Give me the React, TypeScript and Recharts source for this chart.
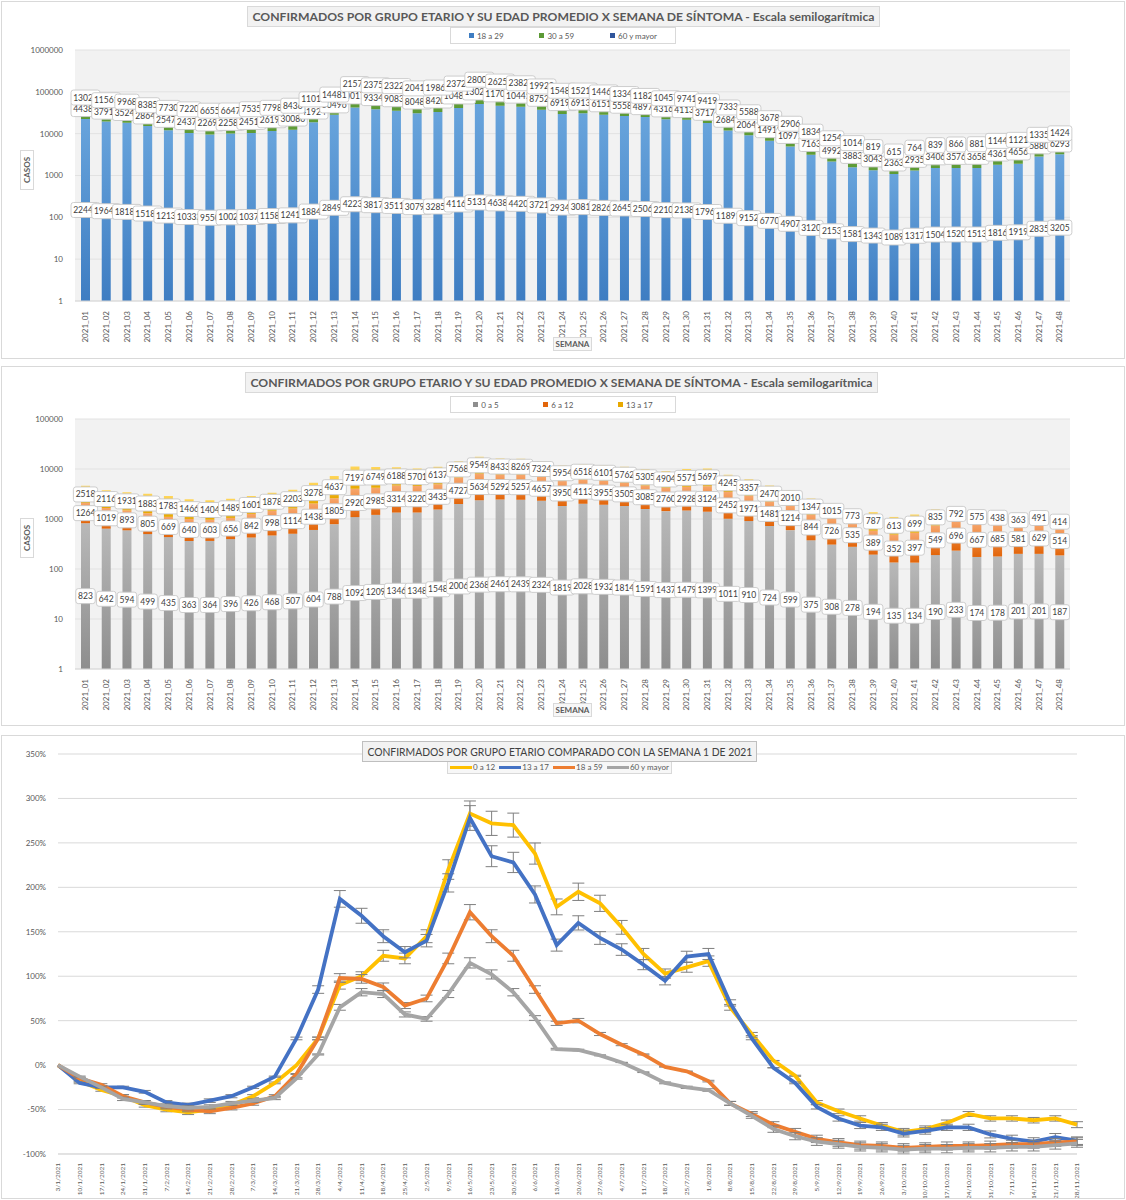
import React from "react";
import {
  BarChart,
  Bar,
  XAxis,
  YAxis,
  CartesianGrid,
  LabelList,
  Legend,
  LineChart,
  Line,
  ErrorBar,
} from "recharts";

const semanas = [
  "2021_01", "2021_02", "2021_03", "2021_04", "2021_05", "2021_06", "2021_07", "2021_08",
  "2021_09", "2021_10", "2021_11", "2021_12", "2021_13", "2021_14", "2021_15", "2021_16",
  "2021_17", "2021_18", "2021_19", "2021_20", "2021_21", "2021_22", "2021_23", "2021_24",
  "2021_25", "2021_26", "2021_27", "2021_28", "2021_29", "2021_30", "2021_31", "2021_32",
  "2021_33", "2021_34", "2021_35", "2021_36", "2021_37", "2021_38", "2021_39", "2021_40",
  "2021_41", "2021_42", "2021_43", "2021_44", "2021_45", "2021_46", "2021_47", "2021_48",
];

// grafico 1 (adultos)
const grupo18a29 = [
  22442, 19644, 18185, 15183, 12137, 10332, 9550, 10023, 10377, 11586, 12416, 18848,
  28493, 42233, 38176, 35117, 30792, 32851, 41166, 51318, 46387, 44206, 37215, 29348,
  30819, 28263, 26454, 25068, 22108, 21385, 17966, 11891, 9152, 6770, 4907, 3120,
  2153, 1581, 1343, 1089, 1317, 1504, 1520, 1513, 1816, 1919, 2835, 3205,
];
const grupo30a59 = [
  44386, 37916, 35242, 28644, 25478, 24372, 22696, 22585, 24513, 26195, 30086, 41924,
  50496, 100178, 93348, 90838, 80485, 84207, 104881, 130206, 117066, 104459, 87526, 69196,
  69133, 61516, 55585, 48972, 43162, 41133, 37174, 26845, 20641, 14910, 10971, 7163,
  4992, 3883, 3043, 2363, 2935, 3406, 3576, 3658, 4361, 4656, 5880, 6293,
];
const grupo60ymas = [
  13020, 11561, 9968, 8385, 7730, 7220, 6655, 6647, 7535, 7798, 8436, 11012,
  14481, 21574, 23756, 23229, 20410, 19868, 23722, 28006, 26259, 23826, 19920, 15488,
  15214, 14462, 13342, 11825, 10457, 9741, 9419, 7333, 5588, 3678, 2906, 1834,
  1254, 1014, 819, 615, 764, 839, 866, 881, 1144, 1121, 1335, 1424,
];

// grafico 2 (menores)
const grupo0a5 = [
  823, 642, 594, 499, 435, 363, 364, 396, 426, 468, 507, 604,
  788, 1092, 1209, 1346, 1348, 1548, 2006, 2368, 2461, 2439, 2324, 1819,
  2028, 1932, 1814, 1591, 1437, 1479, 1399, 1011, 910, 724, 599, 375,
  308, 278, 194, 135, 134, 190, 233, 174, 178, 201, 201, 187,
];
const grupo6a12 = [
  1264, 1019, 893, 805, 669, 640, 603, 656, 842, 998, 1114, 1438,
  1805, 2920, 2985, 3314, 3220, 3435, 4727, 5634, 5292, 5257, 4657, 3950,
  4113, 3955, 3505, 3085, 2760, 2928, 3124, 2452, 1971, 1481, 1214, 844,
  726, 535, 389, 352, 397, 549, 696, 667, 685, 581, 629, 514,
];
const grupo13a17 = [
  2518, 2116, 1931, 1883, 1783, 1466, 1404, 1489, 1601, 1878, 2203, 3278,
  4637, 7197, 6749, 6188, 5701, 6137, 7568, 9549, 8433, 8269, 7324, 5954,
  6518, 6101, 5762, 5305, 4904, 5571, 5697, 4245, 3357, 2470, 2010, 1347,
  1015, 773, 787, 613, 699, 835, 792, 575, 438, 363, 491, 414,
];

// grafico 3 (variacion vs semana 1)
const fechas = [
  "3/1/2021", "10/1/2021", "17/1/2021", "24/1/2021", "31/1/2021", "7/2/2021", "14/2/2021", "21/2/2021",
  "28/2/2021", "7/3/2021", "14/3/2021", "21/3/2021", "28/3/2021", "4/4/2021", "11/4/2021", "18/4/2021",
  "25/4/2021", "2/5/2021", "9/5/2021", "16/5/2021", "23/5/2021", "30/5/2021", "6/6/2021", "13/6/2021",
  "20/6/2021", "27/6/2021", "4/7/2021", "11/7/2021", "18/7/2021", "25/7/2021", "1/8/2021", "8/8/2021",
  "15/8/2021", "22/8/2021", "29/8/2021", "5/9/2021", "12/9/2021", "19/9/2021", "26/9/2021", "3/10/2021",
  "10/10/2021", "17/10/2021", "24/10/2021", "31/10/2021", "7/11/2021", "14/11/2021", "21/11/2021", "28/11/2021",
];
const var0a12 = [
  0, -18, -28, -35, -45, -50, -53, -50, -45, -35, -20, 0,
  30, 90, 100, 123, 120, 145, 220, 283, 272, 270, 238, 178,
  195, 182, 155, 125, 103, 110, 117, 65, 35, 5, -12, -42,
  -52, -60, -68, -75, -72, -65, -55, -60, -60, -62, -60, -67,
];
const var13a17 = [
  0, -20, -25, -25, -30, -42, -45, -40, -35, -25, -13, 30,
  85, 187, 168, 145, 127, 140, 205, 278, 235, 228, 192, 135,
  160, 143, 130, 113, 95, 122, 125, 70, 30, -3, -20, -47,
  -60, -68, -70, -77, -74, -70, -70, -78, -83, -86, -81, -85,
];
const var18a59 = [
  0, -15, -22, -35, -42, -47, -50, -52, -48, -43, -35, -10,
  30, 98, 97, 88, 67, 75, 120, 172, 145, 123, 85, 47,
  50, 35, 23, 12, -2, -7, -18, -43, -55, -67, -75, -83,
  -87, -90, -91, -93, -92, -91, -91, -90, -89, -89, -87, -86,
];
const var60ymas = [
  0, -13, -25, -38, -42, -46, -48, -47, -43, -40, -37, -15,
  12, 65, 82, 80, 57, 52, 80, 115, 102, 82, 53, 18,
  17, 11, 3, -8, -20, -25, -28, -43, -57, -72, -80, -86,
  -89, -92, -93, -95, -94, -94, -93, -93, -92, -92, -90, -88,
];

const logTicks1 = [1, 10, 100, 1000, 10000, 100000, 1000000];
const logTicks2 = [1, 10, 100, 1000, 10000, 100000];
const pctTicks = [-100, -50, 0, 50, 100, 150, 200, 250, 300, 350];

const TITULO_LOG =
  "CONFIRMADOS POR GRUPO ETARIO Y SU EDAD PROMEDIO X SEMANA DE SÍNTOMA - Escala semilogarítmica";

// tramos apilados [desde, hasta] para poder usar eje log
function apilar(a: number[], b: number[], c: number[]) {
  return semanas.map((semana, i) => ({
    semana,
    t1: [1, a[i]],
    t2: [a[i], a[i] + b[i]],
    t3: [a[i] + b[i], a[i] + b[i] + c[i]],
    v1: a[i],
    v2: b[i],
    v3: c[i],
  }));
}

const filasAdultos = apilar(grupo18a29, grupo30a59, grupo60ymas);
const filasMenores = apilar(grupo0a5, grupo6a12, grupo13a17);

// barras de error en porcentaje (5%)
const filasVariacion = fechas.map((fecha, i) => ({
  fecha,
  a: var0a12[i],
  b: var13a17[i],
  c: var18a59[i],
  d: var60ymas[i],
  ea: Math.abs(var0a12[i]) * 0.05,
  eb: Math.abs(var13a17[i]) * 0.05,
  ec: Math.abs(var18a59[i]) * 0.05,
  ed: Math.abs(var60ymas[i]) * 0.05,
}));

const FONT = "Lato, 'Open Sans', sans-serif";

function BoxLabel(p: any) {
  const vb = p.viewBox && p.viewBox.width !== undefined ? p.viewBox : p;
  const cx = vb.x + vb.width / 2;
  const cy = vb.y + vb.height / 2;
  const txt = String(p.value);
  const w = txt.length * 4.8 + 5;
  return (
    <g>
      <rect
        x={cx - w / 2}
        y={cy - 7.5}
        width={w}
        height={15}
        rx={2.5}
        fill="#ffffff"
        stroke="#C8C8C8"
        strokeWidth={0.9}
      />
      <text
        x={cx}
        y={cy}
        dy={3}
        textAnchor="middle"
        fontSize={8.5}
        fill="#404040"
        fontFamily={FONT}
      >
        {txt}
      </text>
    </g>
  );
}

function VertTick(p: any) {
  const { x, y, payload, size } = p;
  const fs = size || 8;
  return (
    <text
      x={x}
      y={y}
      transform={`rotate(-90, ${x}, ${y})`}
      textAnchor="end"
      dy={fs * 0.35}
      fontSize={fs}
      fill="#595959"
      fontFamily={FONT}
    >
      {payload.value}
    </text>
  );
}

function SquareLegend({ items }: { items: { name: string; color: string }[] }) {
  return (
    <div
      style={{
        display: "flex",
        justifyContent: "space-around",
        alignItems: "center",
        width: "100%",
        height: "100%",
        boxSizing: "border-box",
        border: "1px solid #D9D9D9",
        background: "#ffffff",
        fontFamily: FONT,
        fontSize: 8,
        color: "#595959",
      }}
    >
      {items.map((it) => (
        <span key={it.name} style={{ display: "flex", alignItems: "center" }}>
          <span
            style={{ display: "inline-block", width: 5, height: 5, background: it.color, marginRight: 3 }}
          />
          {it.name}
        </span>
      ))}
    </div>
  );
}

function LineLegend({ items }: { items: { name: string; color: string }[] }) {
  return (
    <div
      style={{
        display: "flex",
        justifyContent: "space-around",
        alignItems: "center",
        width: "100%",
        height: "100%",
        boxSizing: "border-box",
        border: "1px solid #D9D9D9",
        background: "#F7F7F7",
        fontFamily: FONT,
        fontSize: 8,
        color: "#595959",
      }}
    >
      {items.map((it) => (
        <span key={it.name} style={{ display: "flex", alignItems: "center" }}>
          <span
            style={{ display: "inline-block", width: 22, height: 3, background: it.color, marginRight: 1 }}
          />
          {it.name}
        </span>
      ))}
    </div>
  );
}

const tituloCaja: React.CSSProperties = {
  position: "absolute",
  boxSizing: "border-box",
  background: "#F2F2F2",
  border: "1px solid #D9D9D9",
  fontFamily: FONT,
  color: "#595959",
  textAlign: "center",
  whiteSpace: "nowrap",
};

const panel: React.CSSProperties = {
  position: "absolute",
  left: 1,
  width: 1124,
  boxSizing: "border-box",
  border: "1px solid #D9D9D9",
  background: "#ffffff",
};

function CasosLabel({ top }: { top: number }) {
  return (
    <div
      style={{
        position: "absolute",
        left: 25 - 20,
        top: top - 7,
        width: 40,
        height: 14,
        transform: "rotate(-90deg)",
        boxSizing: "border-box",
        border: "1px solid #D9D9D9",
        fontFamily: FONT,
        fontSize: 8,
        fontWeight: 700,
        color: "#595959",
        textAlign: "center",
        lineHeight: "12px",
      }}
    >
      CASOS
    </div>
  );
}

function SemanaLabel({ top }: { top: number }) {
  return (
    <div
      style={{
        position: "absolute",
        left: 551,
        top,
        width: 39,
        height: 14,
        boxSizing: "border-box",
        border: "1px solid #D9D9D9",
        background: "#F7F7F7",
        fontFamily: FONT,
        fontSize: 8,
        fontWeight: 700,
        color: "#595959",
        textAlign: "center",
        lineHeight: "12px",
      }}
    >
      SEMANA
    </div>
  );
}

interface LogChartProps {
  rows: ReturnType<typeof apilar>;
  height: number;
  top: number;
  xHeight: number;
  ticks: number[];
  colors: string[];
  names: string[];
  ids: string[];
}

function LogStackChart({ rows, height, top, xHeight, ticks, colors, names, ids }: LogChartProps) {
  const maxTick = ticks[ticks.length - 1];
  return (
    <BarChart
      width={1122}
      height={height}
      data={rows}
      margin={{ top, right: 54, bottom: 0, left: 0 }}
    >
      <defs>
        <linearGradient id={ids[0]} x1="0" y1="0" x2="0" y2="1">
          <stop offset="0%" stopColor={colors[0]} />
          <stop offset="100%" stopColor={colors[1]} />
        </linearGradient>
        <linearGradient id={ids[1]} x1="0" y1="0" x2="0" y2="1">
          <stop offset="0%" stopColor={colors[2]} />
          <stop offset="100%" stopColor={colors[3]} />
        </linearGradient>
        <linearGradient id={ids[2]} x1="0" y1="0" x2="0" y2="1">
          <stop offset="0%" stopColor={colors[4]} />
          <stop offset="100%" stopColor={colors[5]} />
        </linearGradient>
      </defs>
      <CartesianGrid vertical={false} fill="#F2F2F2" stroke="#E2E2E2" />
      <XAxis
        xAxisId="s1"
        dataKey="semana"
        interval={0}
        height={xHeight}
        tick={<VertTick size={8} />}
        tickLine={false}
        tickMargin={4}
        axisLine={{ stroke: "#D9D9D9" }}
      />
      <XAxis xAxisId="s2" dataKey="semana" hide />
      <XAxis xAxisId="s3" dataKey="semana" hide />
      <YAxis
        type="number"
        scale="log"
        domain={[1, maxTick]}
        ticks={ticks}
        allowDataOverflow
        width={73}
        axisLine={false}
        tickLine={false}
        tickMargin={6}
        tick={{ fontSize: 8, fill: "#595959", fontFamily: FONT }}
      />
      <Legend
        layout="horizontal"
        verticalAlign="middle"
        align="center"
        wrapperStyle={{ top: top - 23, left: 448, width: 226, height: 17 }}
        content={() => (
          <SquareLegend
            items={[
              { name: names[0], color: colors[1] },
              { name: names[1], color: colors[3] },
              { name: names[2], color: colors[5] },
            ]}
          />
        )}
      />
      <Bar xAxisId="s1" dataKey="t1" name={names[0]} fill={`url(#${ids[0]})`} barSize={9} isAnimationActive={false}>
        <LabelList dataKey="v1" content={(p: any) => <BoxLabel {...p} />} />
      </Bar>
      <Bar xAxisId="s2" dataKey="t2" name={names[1]} fill={`url(#${ids[1]})`} barSize={9} isAnimationActive={false}>
        <LabelList dataKey="v2" content={(p: any) => <BoxLabel {...p} />} />
      </Bar>
      <Bar xAxisId="s3" dataKey="t3" name={names[2]} fill={`url(#${ids[2]})`} barSize={9} isAnimationActive={false}>
        <LabelList dataKey="v3" content={(p: any) => <BoxLabel {...p} />} />
      </Bar>
    </BarChart>
  );
}

export default function App() {
  return (
    <div style={{ position: "absolute", left: 0, top: 0, width: 1126, height: 1200, background: "#ffffff" }}>
      {/* grafico 1 */}
      <div style={{ ...panel, top: 1, height: 358 }}>
        <LogStackChart
          rows={filasAdultos}
          height={356}
          top={48}
          xHeight={57}
          ticks={logTicks1}
          colors={["#68A4DC", "#3E7DC2", "#78B450", "#5C9A35", "#4A78C8", "#30559B"]}
          names={["18 a 29", "30 a 59", "60 y mayor"]}
          ids={["gA1", "gA2", "gA3"]}
        />
        <div style={{ ...tituloCaja, left: 245, top: 4, width: 633, height: 21, fontSize: 12.2, fontWeight: 700, lineHeight: "19px" }}>
          {TITULO_LOG}
        </div>
        <CasosLabel top={168} />
        <SemanaLabel top={335} />
      </div>

      {/* grafico 2 */}
      <div style={{ ...panel, top: 366, height: 360 }}>
        <LogStackChart
          rows={filasMenores}
          height={358}
          top={52}
          xHeight={56}
          ticks={logTicks2}
          colors={["#B8B8B8", "#8E8E8E", "#F7A66C", "#E2650A", "#FFD65A", "#E8A800"]}
          names={["0 a 5", "6 a 12", "13 a 17"]}
          ids={["gB1", "gB2", "gB3"]}
        />
        <div style={{ ...tituloCaja, left: 243, top: 5, width: 633, height: 21, fontSize: 12.2, fontWeight: 700, lineHeight: "19px" }}>
          {TITULO_LOG}
        </div>
        <CasosLabel top={171} />
        <SemanaLabel top={336} />
      </div>

      {/* grafico 3 */}
      <div style={{ ...panel, top: 735, height: 464 }}>
        <LineChart
          width={1122}
          height={462}
          data={filasVariacion}
          margin={{ top: 18, right: 47, bottom: 0, left: 0 }}
        >
          <CartesianGrid vertical={false} stroke="#D9D9D9" />
          <XAxis
            dataKey="fecha"
            interval={0}
            height={44}
            tick={<VertTick size={6.5} />}
            tickLine={false}
            tickMargin={3}
            axisLine={{ stroke: "#D9D9D9" }}
          />
          <YAxis
            type="number"
            domain={[-100, 350]}
            ticks={pctTicks}
            width={56}
            axisLine={false}
            tickLine={false}
            tickMargin={6}
            tickFormatter={(v: number) => `${v}%`}
            tick={{ fontSize: 8, fill: "#595959", fontFamily: FONT }}
          />
          <Legend
            layout="horizontal"
            verticalAlign="middle"
            align="center"
            wrapperStyle={{ top: 24, left: 445, width: 225, height: 14 }}
            content={() => (
              <LineLegend
                items={[
                  { name: "0 a 12", color: "#FFC000" },
                  { name: "13 a 17", color: "#4472C4" },
                  { name: "18 a 59", color: "#ED7D31" },
                  { name: "60 y mayor", color: "#A5A5A5" },
                ]}
              />
            )}
          />
          <Line dataKey="a" name="0 a 12" stroke="#FFC000" strokeWidth={3.8} dot={false} isAnimationActive={false}>
            <ErrorBar dataKey="ea" width={6} stroke="#7F7F7F" strokeWidth={1} direction="y" />
          </Line>
          <Line dataKey="b" name="13 a 17" stroke="#4472C4" strokeWidth={3.8} dot={false} isAnimationActive={false}>
            <ErrorBar dataKey="eb" width={6} stroke="#7F7F7F" strokeWidth={1} direction="y" />
          </Line>
          <Line dataKey="c" name="18 a 59" stroke="#ED7D31" strokeWidth={3.8} dot={false} isAnimationActive={false}>
            <ErrorBar dataKey="ec" width={6} stroke="#7F7F7F" strokeWidth={1} direction="y" />
          </Line>
          <Line dataKey="d" name="60 y mayor" stroke="#A5A5A5" strokeWidth={3.8} dot={false} isAnimationActive={false}>
            <ErrorBar dataKey="ed" width={6} stroke="#7F7F7F" strokeWidth={1} direction="y" />
          </Line>
        </LineChart>
        <div
          style={{
            ...tituloCaja,
            left: 360,
            top: 5,
            width: 395,
            height: 21,
            fontSize: 11.5,
            color: "#404040",
            border: "1px solid #BFBFBF",
            lineHeight: "19px",
            display: "flex",
            justifyContent: "center",
          }}
        >
          <span style={{ display: "inline-block", flexShrink: 0, transform: "scaleX(0.9)", transformOrigin: "center" }}>
            CONFIRMADOS POR GRUPO ETARIO COMPARADO CON LA SEMANA 1 DE 2021
          </span>
        </div>
      </div>
    </div>
  );
}
